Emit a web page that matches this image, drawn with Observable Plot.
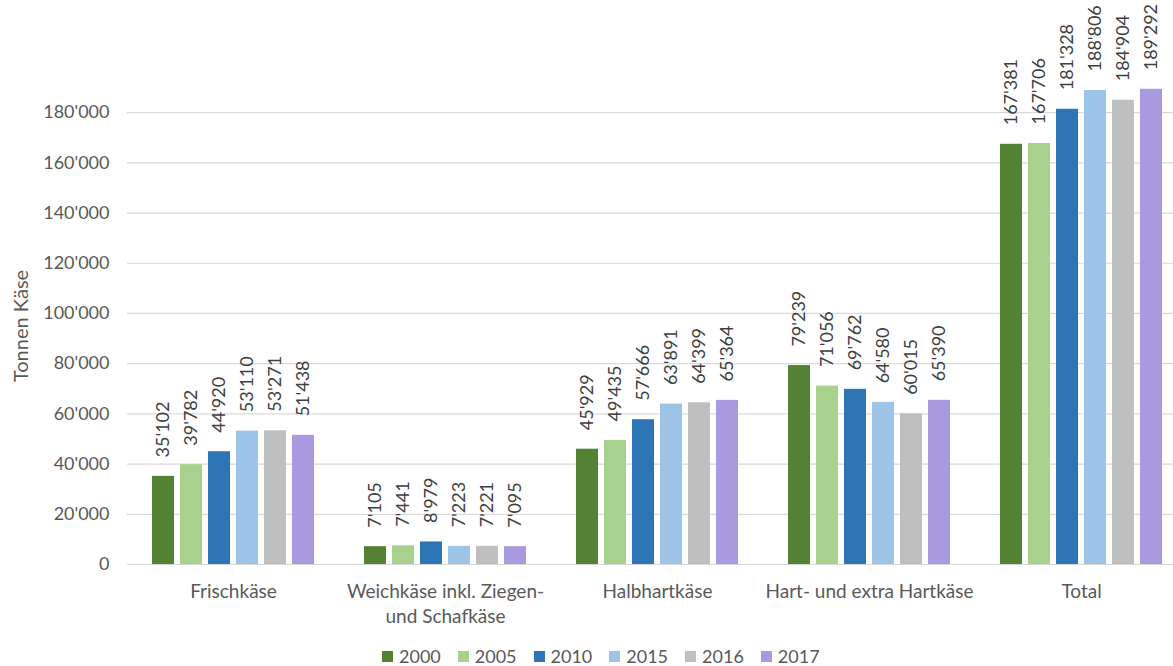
<!DOCTYPE html>
<html>
<head>
<meta charset="utf-8">
<script src="https://cdn.jsdelivr.net/npm/d3@7"></script>
<script src="https://cdn.jsdelivr.net/npm/@observablehq/plot@0.6"></script>
<style>
  html, body { margin: 0; padding: 0; background: #fff; overflow: hidden; width: 1173px; height: 666px; }
  body { font-family: Lato, "Open Sans", sans-serif; }
  #chart { position: absolute; left: 0; top: 0; width: 1187px; }
  #chart svg { max-width: none !important; }
  #legend { position: absolute; left: 382px; top: 647px; line-height: 1; }
  #legend > div { min-height: 0 !important; margin: 0 !important; line-height: 1 !important; }
  #legend span { margin-right: 17px !important; }
  #legend svg { margin-right: 6px !important; }
</style>
</head>
<body>
<div id="chart"></div>
<div id="legend"></div>
<script>
const categories = ["Frischkäse", "Weichkäse inkl. Ziegen-\nund Schafkäse", "Halbhartkäse", "Hart- und extra Hartkäse", "Total"];
const years = ["2000", "2005", "2010", "2015", "2016", "2017"];
const colors = ["#548235", "#A9D18E", "#2E75B6", "#9DC3E6", "#BFBFBF", "#A99ADF"];
const v2000 = [35102, 7105, 45929, 79239, 167381];
const v2005 = [39782, 7441, 49435, 71056, 167706];
const v2010 = [44920, 8979, 57666, 69762, 181328];
const v2015 = [53110, 7223, 63891, 64580, 188806];
const v2016 = [53271, 7221, 64399, 60015, 184904];
const v2017 = [51438, 7095, 65364, 65390, 189292];
const yTicks = [0, 20000, 40000, 60000, 80000, 100000, 120000, 140000, 160000, 180000];
const yLabel = "Tonnen Käse";

const series = [v2000, v2005, v2010, v2015, v2016, v2017];
const data = [];
categories.forEach((c, i) => years.forEach((y, j) => data.push({cat: c, year: y, value: series[j][i]})));

const fmt = d3.formatLocale({decimal: ".", thousands: "'", grouping: [3], currency: ["", ""]}).format(",d");
const font = "Lato, 'Open Sans', sans-serif";

const plot = Plot.plot({
  width: 1187,
  height: 640,
  marginLeft: 127,
  marginRight: 0,
  marginTop: 87,
  marginBottom: 76,
  style: {fontFamily: font, fontSize: "18px", color: "#595959", background: "transparent", overflow: "visible", maxWidth: "none"},
  fx: {domain: categories, paddingInner: 0, paddingOuter: 0, label: null},
  x: {domain: years, paddingInner: 0.2, paddingOuter: 0.885, axis: null},
  y: {domain: [0, 190000], label: null},
  color: {domain: years, range: colors},
  marks: [
    Plot.ruleY(yTicks, {stroke: "#d9d9d9", strokeWidth: 1.2}),
    Plot.axisY({ticks: yTicks, tickFormat: fmt, tickSize: 0, tickPadding: 18, label: null, fill: "#595959", fontSize: 18}),
    Plot.axisFx({anchor: "bottom", tickSize: 0, tickPadding: 16, label: null, lineHeight: 1.3, fill: "#595959", fontSize: 19}),
    Plot.barY(data, {fx: "cat", x: "year", y: "value", fill: "year"}),
    Plot.text(data, {fx: "cat", x: "year", y: "value", text: d => fmt(d.value), rotate: -90, textAnchor: "start", dy: -19, fill: "#404040", fontSize: 18}),
    Plot.text([{cat: categories[0]}], {fx: "cat", text: () => yLabel, frameAnchor: "left", textAnchor: "middle", dx: -106, rotate: -90, fill: "#595959", fontSize: 20})
  ]
});
document.getElementById("chart").appendChild(plot);

const legend = Plot.legend({
  legend: "swatches",
  color: {domain: years, range: colors},
  swatchSize: 11,
  style: {fontFamily: font, fontSize: "18px", color: "#595959"}
});
document.getElementById("legend").appendChild(legend);
</script>
</body>
</html>
